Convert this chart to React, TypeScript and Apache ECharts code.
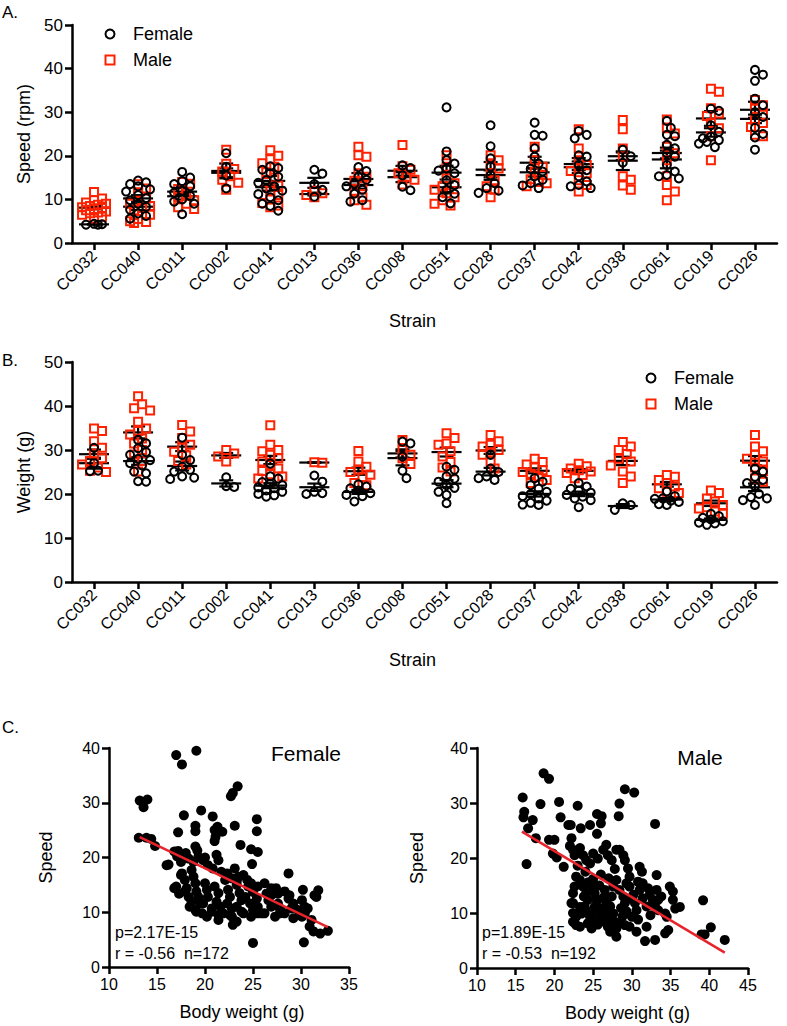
import React, { useEffect, useRef } from "react";
import * as echarts from "echarts";

const strains = ["CC032", "CC040", "CC011", "CC002", "CC041", "CC013", "CC036", "CC008", "CC051", "CC028", "CC037", "CC042", "CC038", "CC061", "CC019", "CC026"];

const speedFemale: number[][] = [
  [4.2, 4.2, 4.3, 4.4],
  [14.3, 13.9, 13.5, 13.0, 12.3, 11.8, 11.0, 10.3, 9.8, 9.0, 8.3, 7.6, 6.8, 6.2, 5.6],
  [16.3, 15.0, 14.2, 13.5, 13.0, 12.0, 11.5, 10.8, 10.0, 9.5, 9.0, 6.6],
  [20.6, 17.5, 15.5, 12.5],
  [17.6, 17.2, 16.8, 16.0, 15.2, 14.4, 13.8, 13.0, 12.5, 12.0, 11.2, 10.5, 9.8, 9.0, 8.5, 7.4],
  [16.8, 15.9, 13.5, 12.2, 10.6],
  [17.4, 16.5, 15.2, 14.5, 13.6, 13.0, 12.2, 11.3, 9.8, 9.5],
  [17.8, 17.2, 15.5, 12.9, 12.1],
  [31.1, 21.0, 19.0, 18.2, 17.1, 16.6, 16.0, 14.4, 13.3, 12.2, 11.3, 10.5, 9.1],
  [27.0, 22.2, 19.4, 17.5, 15.5, 13.7, 12.6, 12.0, 11.5],
  [27.6, 24.8, 24.6, 21.7, 19.8, 18.2, 17.0, 16.4, 15.3, 14.5, 13.7, 13.2, 12.6],
  [25.7, 24.8, 24.0, 20.1, 19.8, 17.9, 16.7, 15.3, 14.1, 13.3, 13.0, 12.6],
  [21.4, 19.9, 18.4],
  [28.0, 26.4, 24.8, 24.5, 22.5, 21.7, 20.6, 19.8, 17.9, 16.4, 15.6, 15.3, 14.8],
  [30.8, 30.3, 27.0, 25.5, 24.4, 24.0, 23.6, 23.2, 22.8, 22.0],
  [39.7, 38.6, 37.2, 33.1, 31.6, 30.0, 28.9, 26.4, 25.0, 24.2, 21.4],
];

const speedMale: number[][] = [
  [11.7, 10.2, 9.8, 9.3, 9.0, 8.8, 8.5, 8.2, 8.0, 7.8, 7.5, 7.2, 7.0, 6.8, 6.5, 6.0, 5.6],
  [13.5, 12.5, 11.5, 10.2, 9.5, 9.0, 8.5, 8.0, 7.5, 6.5, 5.5, 5.0, 4.8, 4.6],
  [14.0, 13.6, 12.4, 11.2, 10.5, 9.8, 9.0, 8.2, 7.8],
  [21.4, 18.2, 17.0, 16.4, 15.3, 14.5, 13.8, 12.2],
  [21.3, 20.0, 19.2, 18.3, 17.5, 16.2, 15.0, 14.0, 13.2, 12.0, 11.0, 10.0, 9.2, 8.6, 8.2],
  [12.0, 11.4, 11.0, 10.5],
  [22.1, 20.1, 19.8, 16.0, 15.2, 14.3, 13.0, 12.0, 10.5, 9.8, 8.8],
  [22.5, 17.6, 16.8, 16.0, 15.2, 14.5, 13.4],
  [20.1, 17.5, 14.8, 13.7, 13.0, 12.2, 11.4, 10.5, 9.8, 9.0, 8.6],
  [20.1, 19.0, 17.9, 17.1, 16.0, 14.4, 13.0, 12.2, 10.5],
  [22.1, 19.0, 17.5, 16.4, 15.6, 14.6, 14.0, 13.7, 13.0],
  [26.1, 21.7, 19.0, 17.9, 17.1, 16.5, 16.0, 14.4, 13.3, 11.8],
  [28.2, 26.1, 21.7, 19.8, 15.3, 14.5, 13.2, 12.2],
  [28.3, 26.3, 25.1, 22.1, 20.6, 19.0, 15.3, 13.3, 11.8, 9.8],
  [35.4, 34.7, 30.9, 29.7, 29.1, 27.5, 26.3, 24.5, 19.0],
  [32.8, 31.6, 30.8, 29.4, 28.2, 27.5, 26.6, 24.8, 24.5],
];

const weightFemale: number[][] = [
  [30.5, 27.0, 25.3, 25.2],
  [32.3, 31.5, 30.4, 29.5, 28.9, 28.0, 27.7, 27.0, 26.5, 25.1, 24.7, 22.9, 22.8],
  [32.8, 28.9, 27.7, 26.2, 25.5, 25.1, 24.0, 23.7, 23.4],
  [23.8, 21.8, 21.6],
  [26.9, 24.0, 23.5, 22.7, 22.3, 22.0, 21.5, 21.3, 20.8, 20.5, 20.0, 19.7, 19.4],
  [24.2, 22.8, 20.5, 20.0, 20.2],
  [22.2, 21.7, 21.3, 20.8, 20.2, 19.8, 19.5, 18.3],
  [31.9, 31.5, 28.5, 25.3, 23.6],
  [26.2, 25.5, 24.0, 23.5, 22.8, 22.0, 21.4, 20.5, 19.8, 17.9],
  [28.9, 25.8, 25.0, 24.0, 23.6, 23.2],
  [23.6, 22.8, 22.0, 21.2, 20.5, 20.0, 19.5, 19.0, 18.5, 18.0, 17.6, 17.5],
  [22.5, 21.7, 21.2, 20.8, 20.3, 19.8, 19.4, 19.0, 18.6, 17.0],
  [17.9, 17.5, 16.4],
  [20.6, 19.5, 19.0, 18.9, 18.5, 18.2, 17.7, 17.5],
  [15.5, 15.0, 14.6, 14.2, 13.8, 13.5, 13.3, 13.0],
  [25.8, 25.1, 23.9, 23.2, 22.5, 21.8, 20.0, 19.3, 19.0, 18.6, 17.5],
];

const weightMale: number[][] = [
  [34.9, 34.3, 32.0, 30.5, 29.2, 28.1, 27.5, 26.7, 26.0, 25.3, 25.0],
  [42.2, 40.4, 39.5, 39.0, 36.4, 34.9, 34.3, 33.5, 32.6, 31.5, 30.0, 29.0, 27.5, 25.1],
  [35.7, 34.2, 32.7, 31.2, 30.5, 29.6, 28.8, 27.5, 26.7],
  [30.0, 29.2, 28.5, 27.4],
  [35.6, 31.2, 30.0, 29.7, 28.9, 28.1, 27.4, 26.6, 25.8, 25.2, 24.5, 24.0, 23.5],
  [27.2, 27.1],
  [29.8, 27.4, 26.2, 25.5, 25.0, 24.4, 23.8, 22.5, 22.0],
  [32.3, 30.0, 28.9, 28.1, 26.8],
  [33.8, 32.7, 31.5, 31.2, 29.7, 28.5, 27.3, 26.0, 25.1],
  [33.4, 32.0, 31.2, 30.8, 30.0, 29.5, 28.9, 27.4, 25.8],
  [28.0, 27.3, 26.7, 26.0, 25.4, 25.0, 24.6, 24.0, 23.2, 22.5],
  [26.9, 26.3, 25.8, 25.4, 25.1, 24.8, 24.3, 23.6],
  [31.8, 30.8, 30.0, 29.1, 28.0, 27.4, 26.5, 25.1, 24.0, 22.5],
  [24.3, 23.9, 23.2, 22.5, 21.7, 21.3, 20.5, 20.2],
  [20.8, 20.2, 19.0, 18.3, 17.5, 17.0, 16.7, 16.0, 15.5],
  [33.4, 30.8, 29.7, 28.9, 28.0, 27.4, 26.0, 25.2, 23.5, 22.8],
];

// [body weight (g), speed]
const femaleBodySpeed: number[][] = [
  [17.0, 38.7], [17.6, 37.0], [19.1, 39.5], [23.4, 33.0], [22.9, 31.8], [22.7, 31.2], [13.2, 30.4], [14.0, 30.6],
  [13.6, 29.2], [17.8, 27.7], [19.6, 28.6], [20.8, 27.5], [19.0, 25.8], [19.0, 24.8], [17.2, 24.6], [21.0, 25.0],
  [21.3, 25.6], [21.8, 24.7], [21.1, 23.8], [21.0, 23.0], [23.1, 25.8], [25.4, 27.0], [25.4, 24.8], [23.7, 22.3],
  [13.1, 23.6], [13.9, 23.6], [14.4, 23.4], [14.8, 22.1], [17.2, 21.2], [19.0, 22.0], [19.2, 21.3], [20.0, 20.0],
  [21.2, 20.5], [21.4, 19.5], [24.8, 21.5], [25.5, 21.0], [24.9, 18.8], [16.2, 18.7],
  [17.0, 14.7], [16.8, 14.4], [17.3, 13.4], [17.6, 17.1], [17.9, 15.9], [18.1, 14.4], [18.6, 17.7], [18.8, 16.5],
  [19.0, 15.3], [19.1, 13.8], [19.3, 12.8], [19.5, 11.6], [19.0, 10.4], [19.1, 10.1], [20.0, 15.3], [20.2, 14.1],
  [20.3, 12.8], [19.8, 11.6], [20.7, 10.7], [21.0, 14.7], [21.4, 13.5], [21.2, 11.9], [21.6, 11.0], [21.4, 9.5],
  [22.1, 15.9], [22.4, 14.1], [22.6, 12.8], [22.3, 11.6], [22.8, 10.7], [22.6, 9.5], [23.1, 18.0], [23.5, 16.5],
  [23.3, 15.0], [23.6, 13.5], [23.8, 12.2], [23.3, 11.0], [23.8, 10.1], [24.2, 12.8], [24.5, 14.7], [24.7, 11.6],
  [25.0, 13.7], [25.4, 12.5], [25.5, 11.0], [25.9, 9.8], [25.0, 10.4], [26.4, 13.4], [26.6, 12.2], [26.9, 13.1],
  [27.5, 13.7], [27.6, 11.6], [27.8, 10.7], [28.3, 9.8], [28.7, 17.1], [28.8, 13.1], [29.2, 8.9], [30.2, 14.1],
  [30.4, 9.8], [30.7, 10.7], [31.1, 8.6], [31.4, 13.1], [31.6, 12.8], [30.9, 7.4], [31.3, 6.5], [32.0, 6.1],
  [32.8, 6.6], [25.0, 4.4], [30.3, 4.5], [22.9, 7.7], [16.0, 18.6], [16.8, 21.1], [17.1, 20.2], [17.5, 19.2],
  [18.0, 20.8], [18.3, 19.8], [18.8, 19.2], [19.3, 20.1], [19.8, 19.5], [20.3, 18.6], [20.8, 18.0], [21.7, 17.4],
  [22.3, 17.1], [22.8, 16.2], [23.3, 15.6], [24.0, 16.8], [24.4, 15.9], [24.8, 15.3], [25.5, 14.7], [26.2, 15.3],
  [26.9, 14.4], [27.4, 14.4], [28.3, 13.8], [17.5, 16.8], [17.9, 13.8], [18.3, 12.8], [18.6, 11.9], [18.4, 11.0],
  [19.7, 9.8], [20.2, 9.2], [20.7, 10.1], [21.4, 8.6], [21.9, 9.8], [22.8, 9.2], [23.3, 8.3], [24.0, 9.8],
  [24.8, 9.2], [25.5, 9.8], [26.2, 9.8], [26.9, 11.0], [27.3, 9.2], [27.8, 9.8], [29.0, 10.7], [29.7, 10.4],
  [30.1, 9.2], [28.7, 12.5], [29.2, 11.6], [30.1, 12.2], [30.4, 11.0], [31.8, 14.0], [27.6, 13.4],
];

const maleBodySpeed: number[][] = [
  [18.6, 35.4], [19.3, 34.4], [29.1, 32.5], [30.3, 31.9], [15.9, 31.0], [18.2, 29.8], [20.6, 30.2], [23.0, 29.5],
  [28.4, 29.9], [28.3, 27.6], [16.1, 28.4], [16.0, 27.4], [17.2, 26.9], [16.6, 25.4], [20.8, 27.4], [21.8, 26.0],
  [22.1, 26.0], [23.4, 25.4], [24.6, 26.0], [25.5, 28.0], [26.1, 27.6], [26.0, 26.3], [25.5, 24.4], [33.0, 26.2],
  [17.6, 23.6], [19.3, 23.3], [16.4, 18.9], [20.3, 20.1], [21.2, 18.4], [22.2, 23.6], [22.0, 22.2], [22.4, 21.5],
  [22.6, 20.5], [23.3, 21.8], [23.7, 20.5], [24.1, 19.6], [24.6, 19.0], [25.0, 20.8], [25.6, 19.9], [26.3, 21.5],
  [26.7, 22.4], [26.9, 20.5], [27.4, 19.6], [28.0, 21.5], [28.4, 21.5], [28.9, 20.5], [29.1, 19.6], [29.5, 18.1],
  [31.0, 18.4], [31.3, 17.5], [33.2, 16.9], [22.8, 16.6], [22.6, 14.8], [22.4, 13.6], [22.4, 11.8], [23.3, 16.0],
  [23.7, 14.8], [24.1, 13.6], [24.3, 12.4], [23.9, 11.2], [23.5, 9.9], [24.8, 14.8], [25.2, 13.6], [25.6, 12.4],
  [25.9, 10.8], [26.1, 9.6], [25.4, 8.4], [24.8, 7.2], [26.5, 14.2], [26.9, 12.7], [27.2, 11.2], [27.6, 9.9],
  [27.8, 8.4], [28.0, 7.2], [27.2, 6.6], [28.4, 14.2], [28.9, 13.0], [29.1, 11.8], [29.3, 10.3], [29.7, 14.8],
  [30.2, 13.3], [30.4, 11.8], [30.6, 10.5], [30.0, 9.3], [30.8, 15.7], [31.4, 15.4], [32.1, 14.5], [32.3, 13.3],
  [32.7, 12.4], [33.0, 11.2], [31.9, 11.2], [33.2, 14.2], [33.4, 10.5], [34.3, 9.9], [34.5, 9.3], [34.3, 6.3],
  [34.7, 6.9], [35.3, 13.9], [35.6, 10.8], [36.2, 11.1], [35.3, 12.4], [31.9, 7.5], [30.6, 6.6], [31.7, 4.9],
  [33.0, 5.1], [39.2, 12.3], [40.2, 7.4], [39.0, 6.1], [39.4, 6.1], [42.0, 5.1], [22.4, 8.4], [22.8, 7.8],
  [23.3, 7.5], [24.3, 8.1], [26.5, 8.4], [26.9, 7.5], [28.4, 8.1], [29.1, 7.8], [29.7, 7.5], [28.0, 5.7],
  [19.8, 20.8], [20.0, 23.3], [22.2, 11.8], [22.4, 10.0], [22.8, 9.3], [23.3, 11.1], [24.6, 9.3], [25.0, 9.9],
  [25.2, 11.1], [25.4, 12.4], [26.7, 11.8], [27.4, 13.0], [27.6, 14.8], [28.0, 16.0], [29.3, 15.4], [29.7, 16.6],
  [31.0, 14.2], [31.4, 12.7], [33.4, 12.4], [33.8, 13.0], [34.9, 14.8], [24.0, 17.5], [25.0, 16.2], [26.0, 17.0],
  [27.0, 16.3], [27.8, 18.0], [23.0, 18.6], [24.4, 15.6], [25.8, 15.0], [26.4, 12.9], [27.0, 10.4], [28.6, 10.9],
  [29.5, 12.6], [30.8, 8.8], [32.4, 9.6], [24.0, 10.6], [25.6, 7.9], [26.8, 9.0], [28.8, 9.4], [23.8, 13.0],
];

const femaleFit: number[][] = [[13.2, 23.7], [32.8, 7.3]];
const maleFit: number[][] = [[15.8, 24.8], [42.0, 2.8]];

const FONT = '"Liberation Sans", Arial, Helvetica, sans-serif';
const RED = "#ff2200";
const LINE_RED = "#e8232b";

function swarm(values: number[], ppu: number): number[] {
  const D = 8, STEP = 4, MAX = 12;
  const idx = values.map((_, i) => i).sort((a, b) => values[b] - values[a]);
  const placed: number[][] = [];
  const out = new Array(values.length).fill(0);
  const cands = [0];
  for (let k = STEP; k <= MAX; k += STEP) cands.push(k, -k);
  for (const i of idx) {
    const y = values[i] * ppu;
    let best = 0, bestD = -1;
    for (const c of cands) {
      let m = Infinity;
      for (const p of placed) m = Math.min(m, Math.hypot(p[0] - c, p[1] - y));
      if (m >= D) { best = c; bestD = m; break; }
      if (m > bestD) { bestD = m; best = c; }
    }
    placed.push([best, y]);
    out[i] = best;
  }
  return out;
}

function pointsOf(groups: number[][], ppu: number) {
  const data: any[] = [];
  groups.forEach((vals, i) => {
    const offs = swarm(vals, ppu);
    vals.forEach((v, j) => data.push({ value: [i, v], symbolOffset: [offs[j], 0] }));
  });
  return data;
}

function meanSem(groups: number[][]) {
  return groups.map((a, i) => {
    const n = a.length;
    const m = a.reduce((s, x) => s + x, 0) / n;
    const sd = Math.sqrt(a.reduce((s, x) => s + (x - m) * (x - m), 0) / Math.max(1, n - 1));
    return [i, m, sd / Math.sqrt(n)];
  });
}

function renderMean(_params: any, api: any) {
  const c = api.coord([api.value(0), api.value(1)]);
  const t = api.coord([api.value(0), api.value(1) + api.value(2)]);
  const b = api.coord([api.value(0), api.value(1) - api.value(2)]);
  const style = { stroke: "#000", lineWidth: 2.2 };
  return {
    type: "group",
    children: [
      { type: "line", shape: { x1: c[0] - 15, y1: c[1], x2: c[0] + 15, y2: c[1] }, style },
      { type: "line", shape: { x1: c[0], y1: t[1], x2: c[0], y2: b[1] }, style },
      { type: "line", shape: { x1: c[0] - 7, y1: t[1], x2: c[0] + 7, y2: t[1] }, style },
      { type: "line", shape: { x1: c[0] - 7, y1: b[1], x2: c[0] + 7, y2: b[1] }, style },
    ],
  };
}

const axisLine = { show: true, onZero: false, lineStyle: { color: "#000", width: 2.5 } };
const axisTick = { show: true, length: 7, lineStyle: { color: "#000", width: 2.5 } };

function valueAxis(grid: number, min: number, max: number, interval: number, name: string, nameGap: number, fontSize: number, extra: any = {}) {
  return {
    type: "value", gridIndex: grid, min, max, interval,
    axisLine, axisTick, splitLine: { show: false },
    axisLabel: { fontSize, color: "#000", fontFamily: FONT, margin: 9 },
    name, nameLocation: "middle", nameGap,
    nameTextStyle: { fontSize: 18, color: "#000", fontFamily: FONT, ...(extra.nameTextStyle || {}) },
  };
}

function catAxis(grid: number) {
  return {
    type: "category", gridIndex: grid, data: strains, boundaryGap: true,
    axisLine, axisTick: { ...axisTick, alignWithLabel: true },
    axisLabel: { rotate: 45, interval: 0, fontSize: 16, margin: 10, color: "#000", fontFamily: FONT },
    name: "Strain", nameLocation: "middle", nameGap: 69,
    nameTextStyle: { fontSize: 18, color: "#000", fontFamily: FONT, padding: [0, 24, 0, 0] },
  };
}

function txt(text: string, x: number, y: number, size: number, align = "left") {
  return { type: "text", x, y, style: { text, font: `${size}px ${FONT}`, fill: "#000", align, verticalAlign: "middle" } };
}

function legend(x: number, y1: number, y2: number) {
  return [
    { type: "circle", shape: { cx: x, cy: y1, r: 4.5 }, style: { fill: "none", stroke: "#000", lineWidth: 2 } },
    txt("Female", x + 23, y1, 18),
    { type: "rect", shape: { x: x - 4.5, y: y2 - 4.5, width: 9, height: 9 }, style: { fill: "none", stroke: RED, lineWidth: 2 } },
    txt("Male", x + 23, y2, 18),
  ];
}

export default function App() {
  const ref = useRef<HTMLDivElement>(null);
  useEffect(() => {
    document.body.style.margin = "0";
    const chart = echarts.init(ref.current!, null, { renderer: "svg" });
    const ppuA = 218 / 50;
    const ppuB = 220 / 50;
    const hollowCircle = { color: "rgba(0,0,0,0)", borderColor: "#000", borderWidth: 2, opacity: 1 };
    const hollowSquare = { color: "rgba(0,0,0,0)", borderColor: RED, borderWidth: 2, opacity: 1 };
    const dot = { color: "#000", opacity: 1 };
    const option: any = {
      animation: false,
      grid: [
        { left: 72, top: 25, width: 705, height: 218 },
        { left: 72, top: 362, width: 705, height: 220 },
        { left: 109, top: 748, width: 240, height: 219 },
        { left: 477, top: 748, width: 271, height: 220 },
      ],
      xAxis: [
        catAxis(0),
        catAxis(1),
        { ...valueAxis(2, 10, 35, 5, "Body weight (g)", 36, 16, { nameTextStyle: { padding: [0, 0, 0, 26] } }) },
        { ...valueAxis(3, 10, 45, 5, "Body weight (g)", 36, 16, { nameTextStyle: { padding: [0, 0, 0, 30] } }) },
      ],
      yAxis: [
        valueAxis(0, 0, 50, 10, "Speed (rpm)", 38, 17),
        valueAxis(1, 0, 50, 10, "Weight (g)", 38, 17),
        valueAxis(2, 0, 40, 10, "Speed", 54, 16),
        valueAxis(3, 0, 40, 10, "Speed", 51, 16),
      ],
      series: [
        { type: "scatter", name: "Male", xAxisIndex: 0, yAxisIndex: 0, symbol: "rect", symbolSize: 8, itemStyle: hollowSquare, data: pointsOf(speedMale, ppuA) },
        { type: "scatter", name: "Female", xAxisIndex: 0, yAxisIndex: 0, symbol: "circle", symbolSize: 8, itemStyle: hollowCircle, data: pointsOf(speedFemale, ppuA) },
        { type: "custom", xAxisIndex: 0, yAxisIndex: 0, renderItem: renderMean, encode: { x: 0, y: 1 }, data: meanSem(speedMale) },
        { type: "custom", xAxisIndex: 0, yAxisIndex: 0, renderItem: renderMean, encode: { x: 0, y: 1 }, data: meanSem(speedFemale) },
        { type: "scatter", name: "Male", xAxisIndex: 1, yAxisIndex: 1, symbol: "rect", symbolSize: 8, itemStyle: hollowSquare, data: pointsOf(weightMale, ppuB) },
        { type: "scatter", name: "Female", xAxisIndex: 1, yAxisIndex: 1, symbol: "circle", symbolSize: 8, itemStyle: hollowCircle, data: pointsOf(weightFemale, ppuB) },
        { type: "custom", xAxisIndex: 1, yAxisIndex: 1, renderItem: renderMean, encode: { x: 0, y: 1 }, data: meanSem(weightMale) },
        { type: "custom", xAxisIndex: 1, yAxisIndex: 1, renderItem: renderMean, encode: { x: 0, y: 1 }, data: meanSem(weightFemale) },
        { type: "scatter", xAxisIndex: 2, yAxisIndex: 2, symbolSize: 10, itemStyle: dot, data: femaleBodySpeed },
        { type: "line", xAxisIndex: 2, yAxisIndex: 2, symbol: "none", lineStyle: { color: LINE_RED, width: 2.5 }, data: femaleFit },
        { type: "scatter", xAxisIndex: 3, yAxisIndex: 3, symbolSize: 10, itemStyle: dot, data: maleBodySpeed },
        { type: "line", xAxisIndex: 3, yAxisIndex: 3, symbol: "none", lineStyle: { color: LINE_RED, width: 2.5 }, data: maleFit },
      ],
      graphic: [
        txt("A.", 2, 12, 17),
        txt("B.", 2, 360, 17),
        txt("C.", 2, 727, 17),
        ...legend(110, 34, 60),
        ...legend(651, 378, 404),
        txt("Female", 306, 753, 21, "center"),
        txt("Male", 700, 757, 21, "center"),
        txt("p=2.17E-15", 115, 932, 16),
        txt("r = -0.56\u00a0 n=172", 115, 953, 16),
        txt("p=1.89E-15", 482, 932, 16),
        txt("r = -0.53\u00a0 n=192", 482, 953, 16),
      ],
    };
    chart.setOption(option);
    return () => chart.dispose();
  }, []);
  return <div ref={ref} style={{ width: 787, height: 1026 }} />;
}
